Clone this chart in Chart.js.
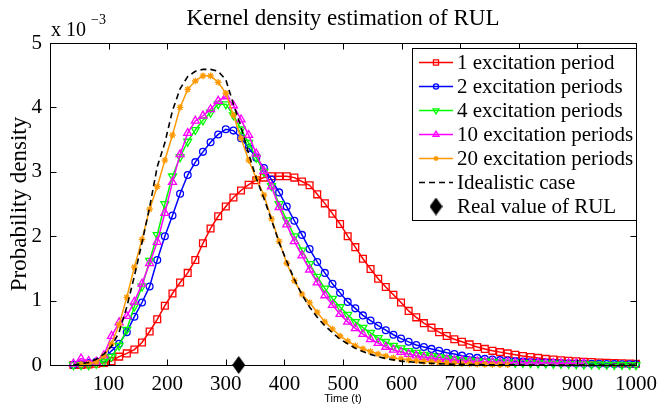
<!DOCTYPE html>
<html>
<head>
<meta charset="utf-8">
<script src="https://cdn.jsdelivr.net/npm/chart.js@4.4.1/dist/chart.umd.min.js"></script>
<style>
html,body{margin:0;padding:0;background:#fff;}
</style>
</head>
<body>
<canvas id="kde" width="664" height="405"></canvas>
<script>
// grid of time values where the densities were evaluated
const timeValues = [
  40,53,66,79,92,105,118,131,144,157,
  170,183,196,209,222,235,248,261,274,287,
  300,313,326,339,352,365,378,391,404,417,
  430,443,456,469,482,495,508,521,534,547,
  560,573,586,599,612,625,638,651,664,677,
  690,703,716,729,742,755,768,781,794,807,
  820,833,846,859,872,885,898,911,924,937,
  950,963,976,989,1000
];

// densities, in units of 1e-3
const period1 = [
  0.00,0.00,0.01,0.02,0.03,0.06,0.13,0.18,0.24,0.35,
  0.52,0.71,0.92,1.11,1.28,1.43,1.63,1.89,2.12,2.31,
  2.46,2.60,2.71,2.80,2.87,2.91,2.93,2.93,2.93,2.91,
  2.85,2.79,2.65,2.51,2.35,2.19,2.00,1.83,1.65,1.49,
  1.34,1.21,1.09,0.97,0.84,0.74,0.65,0.58,0.51,0.45,
  0.40,0.36,0.32,0.28,0.25,0.22,0.20,0.18,0.16,0.14,
  0.125,0.11,0.095,0.085,0.075,0.065,0.058,0.05,0.045,0.04,
  0.035,0.03,0.027,0.024,0.02
];
const periods2 = [
  0.00,0.01,0.03,0.05,0.10,0.22,0.33,0.51,0.75,0.97,
  1.22,1.63,2.00,2.32,2.66,2.95,3.15,3.31,3.46,3.58,
  3.66,3.64,3.52,3.37,3.22,3.06,2.88,2.68,2.46,2.24,
  2.02,1.80,1.60,1.43,1.26,1.12,0.98,0.88,0.77,0.69,
  0.61,0.54,0.47,0.41,0.36,0.31,0.28,0.25,0.22,0.19,
  0.17,0.145,0.125,0.11,0.095,0.085,0.075,0.068,0.06,0.053,
  0.047,0.042,0.037,0.033,0.03,0.027,0.024,0.021,0.019,0.017,
  0.015,0.013,0.012,0.011,0.01
];
const periods4 = [
  0.00,0.00,0.00,0.02,0.05,0.13,0.30,0.55,0.91,1.22,
  1.62,2.02,2.50,2.93,3.23,3.47,3.65,3.80,3.92,4.05,
  4.05,3.88,3.66,3.45,3.22,3.00,2.78,2.50,2.25,2.00,
  1.78,1.57,1.37,1.19,1.03,0.90,0.78,0.67,0.58,0.50,
  0.42,0.36,0.30,0.26,0.22,0.19,0.16,0.14,0.12,0.105,
  0.09,0.08,0.07,0.06,0.055,0.05,0.045,0.04,0.035,0.032,
  0.03,0.027,0.025,0.022,0.02,0.018,0.015,0.012,0.01,0.008,
  0.006,0.004,0.003,0.002,0.0
];
const periods10 = [
  0.02,0.10,0.06,0.05,0.15,0.45,0.66,0.76,0.98,1.26,
  1.58,1.91,2.36,2.84,3.27,3.60,3.79,3.87,3.97,4.10,
  4.17,4.03,3.81,3.57,3.28,3.01,2.77,2.45,2.18,1.92,
  1.70,1.48,1.28,1.08,0.93,0.79,0.67,0.57,0.48,0.40,
  0.34,0.28,0.235,0.20,0.17,0.145,0.125,0.11,0.095,0.085,
  0.075,0.066,0.06,0.055,0.05,0.046,0.042,0.04,0.038,0.036,
  0.034,0.032,0.03,0.03,0.028,0.027,0.026,0.025,null,null,
  null,null,null,null,null
];
const periods20 = [
  null,0.01,0.02,0.05,0.14,0.33,0.63,1.05,1.52,1.95,
  2.42,2.77,3.18,3.57,4.00,4.28,4.41,4.49,4.49,4.39,
  4.22,3.88,3.52,3.18,2.90,2.64,2.27,1.92,1.58,1.31,
  1.10,0.97,0.82,0.67,0.56,0.45,0.37,0.30,0.25,0.21,
  0.17,0.14,0.11,0.095,0.08,0.065,0.055,0.045,0.038,0.03,
  0.025,0.02,0.016,0.013,0.01,0.008,0.006,0.005,null,null,
  null,null,null,null,null,null,null,null,null,null,
  null,null,null,null,null
];
const idealCase = [
  0.00,0.02,0.04,0.09,0.17,0.29,0.51,0.90,1.38,1.90,
  2.45,3.08,3.45,3.95,4.29,4.48,4.56,4.59,4.59,4.56,
  4.43,4.05,3.70,3.28,2.90,2.59,2.25,1.90,1.61,1.33,
  1.09,0.90,0.74,0.61,0.50,0.40,0.33,0.26,0.21,0.165,
  0.13,0.10,0.08,0.06,0.05,0.04,0.03,0.025,0.02,0.015,
  0.012,0.01,0.008,0.006,0.005,0.004,0.003,0.002,0.002,0.001,
  0.001,0.001,0,0,0,0,0,0,0,0,
  0,0,0,0,0
];
const realRUL = 322;

const legendNames = ['1 excitation period','2 excitation periods','4 excitation periods',
  '10 excitation periods','20 excitation periods','Idealistic case','Real value of RUL'];
const xTicks = [100,200,300,400,500,600,700,800,900,1000];
const yTicks = [0,1,2,3,4,5];

const serif = '"Liberation Serif", "Times New Roman", serif';

// filled diamond marker, a bit taller than wide
const diamond = document.createElement('canvas');
diamond.width = 13; diamond.height = 18;
(function(){
  const c = diamond.getContext('2d');
  c.fillStyle = '#000';
  c.beginPath();
  c.moveTo(6.5,0); c.lineTo(13,9); c.lineTo(6.5,18); c.lineTo(0,9);
  c.closePath(); c.fill();
})();

const pts = arr => timeValues.map((t,i)=>({x:t, y:arr[i]}));

function curve(label, arr, color, style, radius, rot, order){
  return {
    label, data: pts(arr), order,
    borderColor: color, borderWidth: 1.5, tension: 0, spanGaps: false,
    pointStyle: style, pointRadius: radius, pointRotation: rot,
    pointBorderColor: color, pointBackgroundColor: 'rgba(0,0,0,0)', pointBorderWidth: 1.3,
    clip: false, showLine: true
  };
}

const datasets = [
  curve(legendNames[0], period1, '#ff0000', 'rect', 4.8, 0, 7),
  curve(legendNames[1], periods2, '#0000ff', 'circle', 3.4, 0, 6),
  curve(legendNames[2], periods4, '#00ff00', 'triangle', 4.6, 180, 5),
  curve(legendNames[3], periods10, '#ff00ff', 'triangle', 4.6, 0, 4),
  curve(legendNames[4], periods20, '#ff9900', 'star', 3.3, 0, 3),
  {label: legendNames[5], data: pts(idealCase), order: 2, borderColor:'#000', borderWidth:1.6,
   borderDash:[6,4], pointRadius:0, tension:0, clip:false, showLine:true},
  {label: legendNames[6], data:[{x:realRUL, y:0}], order: 1, showLine:false,
   pointStyle: diamond, pointRadius: 7, clip:false}
];

// box, inward ticks, texts and legend like the original figure
const decorations = {
  id: 'decorations',
  afterDatasetsDraw(chart){
    const {ctx, chartArea:a, scales:{x, y}} = chart;
    const L = Math.round(a.left)+0.5, R = Math.round(a.right)+0.5;
    const T = Math.round(a.top)+0.5, B = Math.round(a.bottom)+0.5;
    ctx.save();
    ctx.strokeStyle = '#000'; ctx.lineWidth = 1;
    ctx.strokeRect(L, T, R-L, B-T);
    ctx.beginPath();
    xTicks.forEach(v=>{
      const px = Math.round(x.getPixelForValue(v))+0.5;
      ctx.moveTo(px,B); ctx.lineTo(px,B-6);
      ctx.moveTo(px,T); ctx.lineTo(px,T+6);
    });
    yTicks.forEach(v=>{
      const py = Math.round(y.getPixelForValue(v))+0.5;
      ctx.moveTo(L,py); ctx.lineTo(L+6,py);
      ctx.moveTo(R,py); ctx.lineTo(R-6,py);
    });
    ctx.stroke();

    ctx.fillStyle = '#000';
    ctx.textAlign = 'center'; ctx.textBaseline = 'alphabetic';
    ctx.font = '23px ' + serif;
    ctx.fillText('Kernel density estimation of RUL', (a.left+a.right)/2, 25);

    ctx.textAlign = 'left';
    ctx.font = '20px ' + serif;
    ctx.fillText('x 10', 51, 36);
    ctx.font = '14px ' + serif;
    ctx.fillText('\u22123', 91, 24);

    ctx.textAlign = 'center';
    ctx.font = '11px "Liberation Sans", Arial, sans-serif';
    ctx.fillText('Time (t)', (a.left+a.right)/2, 402);

    ctx.save();
    ctx.translate(26, (a.top+a.bottom)/2);
    ctx.rotate(-Math.PI/2);
    ctx.font = '23px ' + serif;
    ctx.fillText('Probability density', 0, 0);
    ctx.restore();

    // legend
    const bx = 412, by = 48, bw = 224, bh = 172;
    ctx.fillStyle = '#fff';
    ctx.fillRect(bx, by, bw, bh);
    ctx.strokeRect(bx+0.5, by+0.5, bw, bh);
    ctx.font = '21px ' + serif;
    ctx.textAlign = 'left'; ctx.textBaseline = 'middle';
    chart.data.datasets.forEach((ds,i)=>{
      const cy = 62.5 + i*24;
      if (ds.showLine) {
        ctx.save();
        ctx.strokeStyle = ds.borderColor; ctx.lineWidth = ds.borderWidth;
        ctx.setLineDash(ds.borderDash || []);
        ctx.beginPath(); ctx.moveTo(419, cy); ctx.lineTo(453, cy); ctx.stroke();
        ctx.restore();
      }
      if (ds.pointRadius > 0) {
        ctx.save();
        ctx.strokeStyle = ds.pointBorderColor || '#000';
        ctx.fillStyle = ds.pointBackgroundColor || '#000';
        ctx.lineWidth = ds.pointBorderWidth || 1;
        const r = ds.pointStyle === diamond ? ds.pointRadius : ds.pointRadius * 0.75;
        Chart.helpers.drawPoint(ctx, {pointStyle: ds.pointStyle, rotation: ds.pointRotation || 0,
          radius: r, borderWidth: ds.pointBorderWidth || 1}, 436, cy);
        ctx.restore();
      }
      ctx.fillStyle = '#000';
      ctx.fillText(ds.label, 457, cy+1);
    });
    ctx.restore();
  }
};

new Chart(document.getElementById('kde'), {
  type: 'scatter',
  data: { datasets },
  options: {
    responsive: false,
    animation: false,
    layout: { padding: { top: 43, right: 22, bottom: 0, left: 0 } },
    plugins: { legend: { display: false }, tooltip: { enabled: false }, title: { display: false } },
    scales: {
      x: {
        type: 'linear', min: 0, max: 1000,
        grid: { display: false, drawTicks: false }, border: { display: false },
        ticks: { stepSize: 100, padding: 7, color: '#000', autoSkip: false, maxRotation: 0,
          font: { family: serif, size: 21 }, callback: v => v === 0 ? '' : String(v) },
        afterFit: s => { s.height = 40; }
      },
      y: {
        min: 0, max: 5,
        grid: { display: false, drawTicks: false }, border: { display: false },
        ticks: { stepSize: 1, padding: 8, color: '#000', font: { family: serif, size: 21 },
          callback: v => String(v) },
        afterFit: s => { s.width = 50; }
      }
    }
  },
  plugins: [decorations]
});
</script>
</body>
</html>
